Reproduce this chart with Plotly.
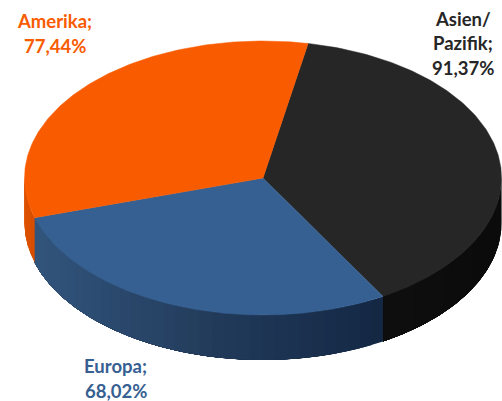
import numpy as np
import plotly.graph_objects as go

# Regional shares, clockwise from the first slice
regions = ["Asien/Pazifik", "Europa", "Amerika"]
values = [91.37, 68.02, 77.44]
top_colors = ["#262626", "#366092", "#F95B00"]

# Rim shade ramps, left to right across each visible wall
rim_colors = {
    "Asien/Pazifik": [(15, 15, 15), (11, 11, 11)],
    "Europa": [(50, 85, 125), (35, 60, 92), (20, 40, 68)],
    "Amerika": [(222, 82, 0), (214, 78, 0)],
}

# Label lines: text, x, y, colour
label_lines = [
    ("Amerika;", 54.5, 21, "#F95B00"),
    ("77,44%", 54.5, 46, "#F95B00"),
    ("Asien/", 463, 19, "#262626"),
    ("Pazifik;", 463, 43, "#262626"),
    ("91,37%", 463, 68, "#262626"),
    ("Europa;", 115.5, 366, "#366092"),
    ("68,02%", 115.5, 391, "#366092"),
]

# Projection of the tilted disc
CX, CY = 263.0, 178.0
RX, RY = 238.5, 137.0
DEPTH = 45.0
START_DEG = 10.9


def rim(theta, dy=0.0):
    return CX + RX * np.sin(theta), CY - RY * np.cos(theta) + dy


def ramp(stops, f):
    stops = np.array(stops, dtype=float)
    pos = np.linspace(0, 1, len(stops))
    rgb = [np.interp(f, pos, stops[:, i]) for i in range(3)]
    return "rgb(%d,%d,%d)" % tuple(rgb)


def polygon(xs, ys, color, width=0.0):
    return go.Scatter(
        x=xs, y=ys, mode="lines", fill="toself", fillcolor=color,
        line=dict(color=color, width=width), hoverinfo="skip", showlegend=False,
    )


shares = np.array(values) / np.sum(values)
edges = np.radians(START_DEG) + np.concatenate([[0], np.cumsum(shares)]) * 2 * np.pi

fig = go.Figure()

# Visible outer wall: the front half of the disc. Each band runs to the wall's far
# end and the next one paints over it, so no seams show between shades.
for name, a, b in zip(regions, edges[:-1], edges[1:]):
    lo, hi = max(a, np.pi / 2), min(b, 3 * np.pi / 2)
    if hi <= lo:
        continue
    steps = max(int(np.degrees(hi - lo) / 3), 1)
    ticks = np.linspace(lo, hi, steps + 1)
    x_lo = rim(hi)[0]
    x_hi = rim(lo)[0]
    for t0, t1 in zip(ticks[:-1], ticks[1:]):
        t = np.linspace(t0, hi, 120)
        x_top, y_top = rim(t)
        x_bot, y_bot = rim(t[::-1], DEPTH)
        f = (rim((t0 + t1) / 2)[0] - x_lo) / max(x_hi - x_lo, 1e-6)
        fig.add_trace(polygon(
            np.concatenate([x_top, x_bot, x_top[:1]]),
            np.concatenate([y_top, y_bot, y_top[:1]]),
            ramp(rim_colors[name], f),
        ))

# Top faces
for a, b, color in zip(edges[:-1], edges[1:], top_colors):
    t = np.linspace(a, b, 160)
    x, y = rim(t)
    fig.add_trace(polygon(
        np.concatenate([[CX], x, [CX]]),
        np.concatenate([[CY], y, [CY]]),
        color,
        0.5,
    ))

for text, x, y, color in label_lines:
    fig.add_annotation(
        x=x, y=y, text=f"<b>{text}</b>", showarrow=False,
        xanchor="center", yanchor="middle",
        font=dict(family="Lato", size=18.5, color=color),
    )

fig.update_layout(
    width=502, height=401, autosize=False,
    margin=dict(l=0, r=0, t=0, b=0),
    paper_bgcolor="white", plot_bgcolor="white",
    xaxis=dict(range=[0, 502], visible=False, fixedrange=True),
    yaxis=dict(range=[401, 0], visible=False, fixedrange=True),
    showlegend=False,
)

fig.write_html("out.html", config=dict(displayModeBar=False))
